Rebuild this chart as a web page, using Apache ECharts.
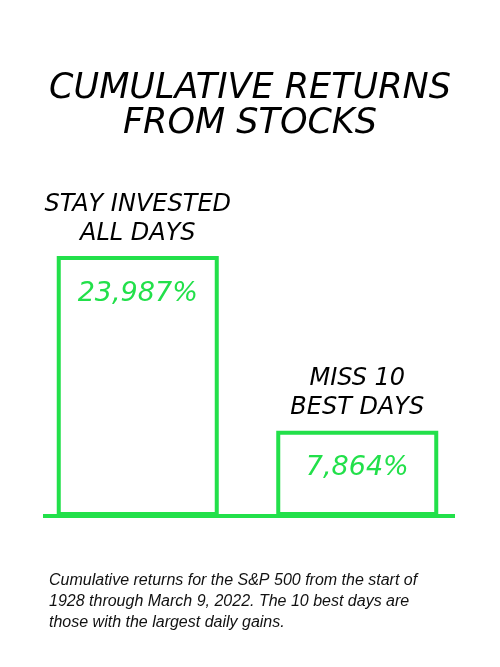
<!DOCTYPE html>
<html><head><meta charset="utf-8">
<script src="https://cdn.jsdelivr.net/npm/echarts@6/dist/echarts.min.js"></script>
<style>html,body{margin:0;padding:0;background:#fff}#c{width:500px;height:667px}</style>
</head><body><div id="c"></div>
<script>
const categories = ['STAY INVESTED\nALL DAYS', 'MISS 10\nBEST DAYS'];
const returnsPct = [23987, 7864];
const valueLabels = ['23,987%', '7,864%'];

const green = '#22e04a';
const chart = echarts.init(document.getElementById('c'), null, {renderer: 'canvas'});
chart.setOption({
  backgroundColor: '#fff',
  animation: false,
  title: [{
    text: 'CUMULATIVE RETURNS\nFROM STOCKS',
    left: 'center', top: 66,
    textStyle: {fontFamily: 'DejaVu Sans', fontStyle: 'italic', fontWeight: 'normal', fontSize: 35, lineHeight: 35, color: '#000'}
  }, {
    text: 'Cumulative returns for the S&P 500 from the start of\n1928 through March 9, 2022. The 10 best days are\nthose with the largest daily gains.',
    left: 44, top: 565,
    textStyle: {fontFamily: 'Liberation Sans', fontStyle: 'italic', fontWeight: 'normal', fontSize: 16, lineHeight: 21, color: '#111'}
  }],
  grid: {left: 28, right: 33, top: 256, bottom: 151},
  xAxis: {type: 'category', data: categories, axisLine: {show: false}, axisTick: {show: false}, axisLabel: {show: false}},
  yAxis: {type: 'value', min: 0, max: 23987, show: false, splitLine: {show: false}},
  series: [{
    type: 'bar', data: returnsPct, barWidth: 162, barGap: '-100%',
    itemStyle: {color: 'rgba(255,255,255,0)', borderColor: green, borderWidth: 4},
    label: {show: true, position: 'insideTop', distance: 24, formatter: p => valueLabels[p.dataIndex],
      fontFamily: 'DejaVu Sans', fontStyle: 'italic', fontSize: 27, color: green}
  }, {
    type: 'bar', data: returnsPct, barWidth: 162, silent: true,
    itemStyle: {color: 'rgba(0,0,0,0)'},
    label: {show: true, position: 'top', distance: 8, formatter: p => categories[p.dataIndex],
      fontFamily: 'DejaVu Sans', fontStyle: 'italic', fontSize: 24, lineHeight: 29, color: '#000', align: 'center'}
  }],
  graphic: [{
    type: 'line', shape: {x1: 43, y1: 516, x2: 455, y2: 516},
    style: {stroke: green, lineWidth: 4}, z: 10
  }]
});
</script></body></html>
